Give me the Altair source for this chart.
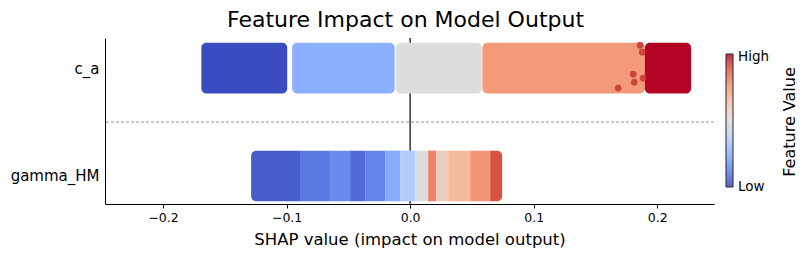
import altair as alt
import pandas as pd

# ---- data ----
features = ["gamma_HM", "c_a"]          # y positions 0 and 1
ca_left = [-0.169, -0.0955, -0.0115, 0.0585, 0.190]
ca_right = [-0.0995, -0.0125, 0.058, 0.190, 0.2275]
ca_value = [0.0, 0.25, 0.5, 0.75, 1.0]

gamma_edges = [-0.1287, -0.0891, -0.0648, -0.0486, -0.0364, -0.0202, -0.0081,
               0.0040, 0.0146, 0.0211, 0.0308, 0.0486, 0.0648, 0.0745]
gamma_value = [0.04, 0.10, 0.15, 0.07, 0.13, 0.24, 0.36, 0.50, 0.80, 0.58,
               0.66, 0.76, 0.90]

outlier_x = [0.1862, 0.1879, 0.1806, 0.1814, 0.1887, 0.1684]
outlier_y = [1.213, 1.148, 0.944, 0.870, 0.907, 0.815]
outlier_value = [0.95, 0.95, 0.95, 0.95, 0.95, 0.95]

cmap_stops = [0.0, 0.125, 0.25, 0.375, 0.5, 0.625, 0.75, 0.875, 1.0]
cmap_colors = ["#3b4cc0", "#6282ea", "#8db0fe", "#b8d0f9", "#dddddd",
               "#f5c4ad", "#f49a7b", "#de604d", "#b40426"]

chart_title = ["Feature Impact on Model Output"]
colorbar_title = ["Feature Value"]

# ---- tables ----
HALF = 0.235
ca_df = pd.DataFrame({"x": ca_left, "x2": ca_right, "value": ca_value,
                      "row": [1] * len(ca_value)})
n = len(gamma_value)
g_df = pd.DataFrame({"x": gamma_edges[:-1], "x2": gamma_edges[1:],
                     "value": gamma_value, "row": [0] * n,
                     "part": ["start"] + ["mid"] * (n - 2) + ["end"]})
out_df = pd.DataFrame({"x": outlier_x, "y": outlier_y, "value": outlier_value})

xscale = alt.Scale(domain=[-0.247, 0.246], nice=False, zero=False)
yscale = alt.Scale(domain=[-0.26, 1.28], nice=False, zero=False)

color = alt.Color(
    "value:Q",
    scale=alt.Scale(domain=cmap_stops, range=cmap_colors),
    legend=alt.Legend(
        title=None, orient="none", legendX=621, legendY=16,
        direction="vertical", gradientLength=133, gradientThickness=7,
        values=[0.001, 0.977],
        labelExpr="datum.value > 0.5 ? 'High' : 'Low'",
        labelFontSize=13.5, labelColor="black", labelOffset=5,
        gradientStrokeColor="black", gradientStrokeWidth=1,
        padding=0,
    ),
)

xaxis = alt.Axis(values=[-0.2, -0.1, 0, 0.1, 0.2], format=".1f",
                 title="SHAP value (impact on model output)",
                 titleFontSize=16.5, titleFontWeight="normal", titleColor="black",
                 titlePadding=8, labelFontSize=12.5, labelColor="black",
                 labelPadding=3, tickSize=4, tickColor="black",
                 domainColor="black", grid=False)
yaxis = alt.Axis(values=[0, 1],
                 labelExpr="datum.value == 1 ? 'c_a' : 'gamma_HM'",
                 ticks=False, labelFontSize=15, labelColor="black",
                 labelPadding=6, domainColor="black", grid=False, title=None)

zero_line = alt.Chart(pd.DataFrame({"x": [0.0]})).mark_rule(
    color="black", strokeWidth=1.2).encode(
    x=alt.X("x:Q", scale=xscale, axis=xaxis))

sep_line = alt.Chart(pd.DataFrame({"y": [0.5]})).mark_rule(
    color="#777777", strokeWidth=0.8, strokeDash=[3, 2]).encode(
    y=alt.Y("y:Q", scale=yscale, axis=yaxis))


def rows(df, **mark):
    return alt.Chart(df).mark_rect(**mark).transform_calculate(
        lo=f"datum.row - {HALF}", hi=f"datum.row + {HALF}"
    ).encode(
        x=alt.X("x:Q", scale=xscale, axis=xaxis), x2="x2:Q",
        y=alt.Y("lo:Q", scale=yscale, axis=yaxis), y2="hi:Q",
        color=color,
    )


ca_layer = rows(ca_df, cornerRadius=5)
g_mid = rows(g_df).transform_filter("datum.part == 'mid'")
g_start = rows(g_df, cornerRadiusTopLeft=5, cornerRadiusBottomLeft=5
               ).transform_filter("datum.part == 'start'")
g_end = rows(g_df, cornerRadiusTopRight=5, cornerRadiusBottomRight=5
             ).transform_filter("datum.part == 'end'")

dots = alt.Chart(out_df).mark_circle(size=45, opacity=0.85).encode(
    x=alt.X("x:Q", scale=xscale, axis=xaxis),
    y=alt.Y("y:Q", scale=yscale, axis=yaxis),
    color=color,
)

cbar_title = alt.Chart(pd.DataFrame({"t": colorbar_title})).mark_text(
    angle=270, fontSize=16, color="black", align="center", baseline="middle"
).encode(x=alt.value(685), y=alt.value(84), text="t:N")

title_text = alt.Chart(pd.DataFrame({"t": chart_title})).mark_text(
    fontSize=22, color="black", align="center", baseline="alphabetic"
).encode(x=alt.value(300.5), y=alt.value(-11), text="t:N")

chart = alt.layer(zero_line, sep_line, ca_layer, g_mid, g_start, g_end, dots,
                  cbar_title, title_text).properties(
    width=609, height=166,
    autosize=alt.AutoSizeParams(type="none"),
    padding={"left": 97, "top": 30, "right": 89, "bottom": 49},
).configure(font="DejaVu Sans").configure_view(stroke=None)

chart.save("out.html", embed_options={"renderer": "svg", "actions": False})
